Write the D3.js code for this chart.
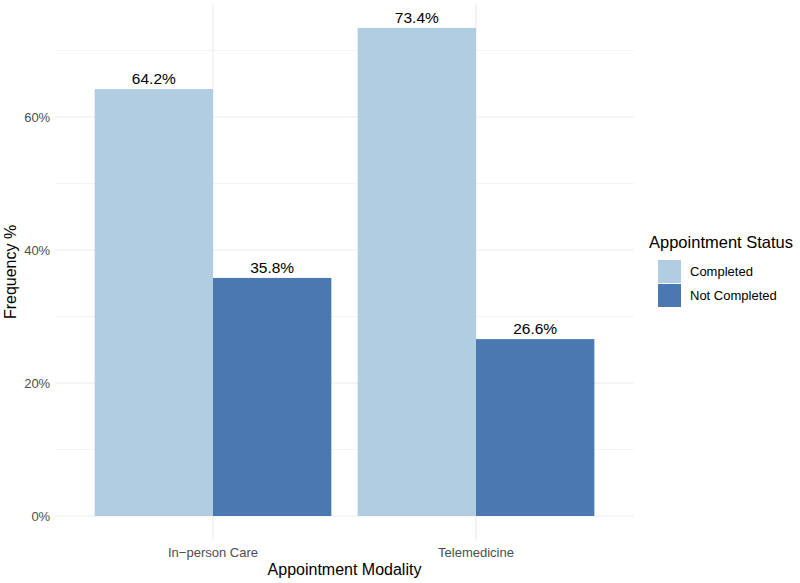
<!DOCTYPE html>
<html><head><meta charset="utf-8">
<script src="https://cdn.jsdelivr.net/npm/d3@7"></script>
<style>body{margin:0;background:#fff;}svg{display:block;font-family:"Liberation Sans",Arial,sans-serif;}</style>
</head><body><svg id="c" width="800" height="583"></svg>
<script>
const categories = ["In\u2212person Care", "Telemedicine"];
const statuses = ["Completed", "Not Completed"];
const completed = [64.2, 73.4];
const notCompleted = [35.8, 26.6];
const yTicks = [0, 20, 40, 60];
const yMinor = [10, 30, 50, 70];
const colors = ["#b1cde2", "#4a78b0"];

(function(){
const svg = d3.select("#c");
const pL = 55.2, pR = 633.8, pT = 3.5, pB = 540.4;
const step = (pR - pL) / 2.2;
const xc = d3.scalePoint().domain(categories).range([pL + 0.6*step, pR - 0.6*step]);
const groupW = 0.9 * step;
const xs = d3.scaleBand().domain(statuses).range([0, groupW]);
const yMax = d3.max(completed.concat(notCompleted));
const y = d3.scaleLinear().domain([-0.05*yMax, 1.05*yMax]).range([pB, pT]);

const g = svg.append("g");
g.selectAll(".mn").data(yMinor).enter().append("line")
  .attr("x1", pL).attr("x2", pR).attr("y1", d=>y(d)).attr("y2", d=>y(d))
  .attr("stroke", "#ebebeb").attr("stroke-width", 0.6);
g.selectAll(".mj").data(yTicks).enter().append("line")
  .attr("x1", pL).attr("x2", pR).attr("y1", d=>y(d)).attr("y2", d=>y(d))
  .attr("stroke", "#ebebeb").attr("stroke-width", 1.1);
g.selectAll(".vx").data(categories).enter().append("line")
  .attr("x1", d=>xc(d)).attr("x2", d=>xc(d)).attr("y1", pT).attr("y2", pB)
  .attr("stroke", "#ebebeb").attr("stroke-width", 1.1);

const rows = [];
categories.forEach((c,i)=>{
  rows.push({cat:c, s:statuses[0], v:completed[i], col:colors[0]});
  rows.push({cat:c, s:statuses[1], v:notCompleted[i], col:colors[1]});
});
g.selectAll(".bar").data(rows).enter().append("rect")
  .attr("x", d=>xc(d.cat) - groupW/2 + xs(d.s))
  .attr("width", xs.bandwidth())
  .attr("y", d=>y(d.v)).attr("height", d=>y(0)-y(d.v))
  .attr("fill", d=>d.col);
g.selectAll(".lbl").data(rows).enter().append("text")
  .attr("x", d=>xc(d.cat) - groupW/2 + xs(d.s) + xs.bandwidth()/2)
  .attr("y", d=>y(d.v) - 5)
  .attr("text-anchor", "middle").attr("font-size", 15.5).attr("fill", "#000")
  .text(d=>d.v.toFixed(1) + "%");

g.selectAll(".yt").data(yTicks).enter().append("text")
  .attr("x", pL - 5).attr("y", d=>y(d)).attr("dy", "0.35em")
  .attr("text-anchor", "end").attr("font-size", 13).attr("fill", "#4d4d4d")
  .text(d=>d + "%");
g.selectAll(".xt").data(categories).enter().append("text")
  .attr("x", d=>xc(d)).attr("y", pB + 17)
  .attr("text-anchor", "middle").attr("font-size", 13).attr("fill", "#4d4d4d")
  .text(d=>d);
svg.append("text").attr("x", (pL+pR)/2).attr("y", 575)
  .attr("text-anchor", "middle").attr("font-size", 16).attr("fill", "#000")
  .text("Appointment Modality");
svg.append("text").attr("transform", `translate(16,${(pT+pB)/2}) rotate(-90)`)
  .attr("text-anchor", "middle").attr("font-size", 16).attr("fill", "#000")
  .text("Frequency %");

const lg = svg.append("g");
lg.append("text").attr("x", 649).attr("y", 248).attr("font-size", 16.5).attr("fill", "#000").text("Appointment Status");
statuses.forEach((s,i)=>{
  lg.append("rect").attr("x", 658).attr("y", 260 + i*24).attr("width", 23).attr("height", 23).attr("fill", colors[i]);
  lg.append("text").attr("x", 690).attr("y", 260 + i*24 + 11.5).attr("dy","0.35em").attr("font-size", 13).attr("fill", "#000").text(s);
});
})();
</script></body></html>
